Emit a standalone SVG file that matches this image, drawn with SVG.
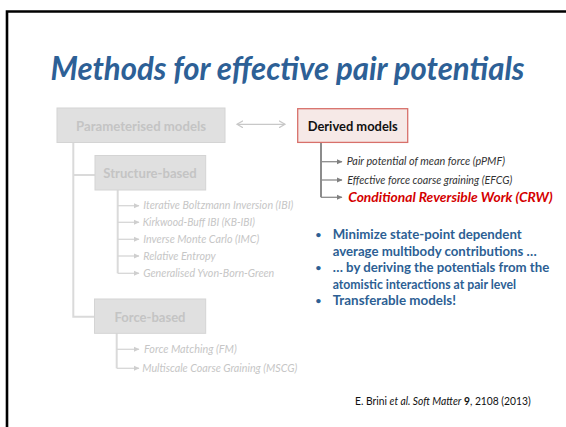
<svg xmlns="http://www.w3.org/2000/svg" width="566" height="427" viewBox="0 0 566 427">
  <defs>
    <marker id="ahLight" markerWidth="6" markerHeight="6" refX="5" refY="3" orient="auto" markerUnits="userSpaceOnUse">
      <path d="M0,0.5 L5.5,3 L0,5.5 z" fill="#cfcfcf"/>
    </marker>
    <marker id="ahDark" markerWidth="6" markerHeight="6" refX="5" refY="3" orient="auto" markerUnits="userSpaceOnUse">
      <path d="M0,0.5 L5.5,3 L0,5.5 z" fill="#808080"/>
    </marker>
    <marker id="chev" markerWidth="8" markerHeight="8" refX="6" refY="4" orient="auto-start-reverse" markerUnits="userSpaceOnUse">
      <path d="M0,0.5 L6,4 L0,7.5" fill="none" stroke="#c8c8c8" stroke-width="1.2"/>
    </marker>
  </defs>
  <style>
    text { font-family: Lato, "Open Sans", "Liberation Sans", sans-serif; }
    .title { font-size: 32px; font-weight: bold; font-style: italic; fill: #2d6096; }
    .boxGrey { fill: #e0e0e0; stroke: #d4d4d4; stroke-width: 1; }
    .boxRed { fill: #f6e9e7; stroke: #d8706a; stroke-width: 1.3; }
    .lblGrey { font-size: 13px; font-weight: bold; fill: #c4c4c4; text-anchor: middle; }
    .lblDark { font-size: 13px; font-weight: bold; fill: #111; text-anchor: middle; }
    .itemGrey { font-size: 10.5px; font-style: italic; fill: #c6c6c6; }
    .itemDark { font-size: 10.5px; font-style: italic; fill: #333; }
    .itemRed { font-size: 14px; font-style: italic; font-weight: bold; fill: #d40000; }
    .bullet { font-size: 13px; font-weight: bold; fill: #2d5f94; }
    .dot { font-size: 10px; font-weight: bold; fill: #2d5f94; }
    .cite { font-size: 10.5px; fill: #111; }
    .trunkLight { fill: none; stroke: #dadada; stroke-width: 2; }
    .twigLight { fill: none; stroke: #d6d6d6; stroke-width: 1.3; }
    .trunkDark { fill: none; stroke: #8c8c8c; stroke-width: 2; }
    .twigDark { fill: none; stroke: #8c8c8c; stroke-width: 1.3; }
  </style>

  <!-- slide frame -->
  <path d="M7,427 V11.5 H566" fill="none" stroke="#000" stroke-width="2.6"/>

  <text class="title" x="50.5" y="80" textLength="474" lengthAdjust="spacingAndGlyphs">Methods for effective pair potentials</text>

  <!-- connectors -->
  <g id="connectors">
    <line x1="237" y1="124.3" x2="285" y2="124.3" stroke="#c8c8c8" stroke-width="1.2" marker-start="url(#chev)" marker-end="url(#chev)"/>
    <!-- parameterised tree -->
    <path class="trunkLight" d="M73.3,142 V316.7 H95 M73.3,175 H95"/>
    <path class="trunkLight" d="M117.7,190 V273.3"/>
    <path class="twigLight" d="M117.7,205.7 H139" marker-end="url(#ahLight)"/>
    <path class="twigLight" d="M117.7,222.3 H139" marker-end="url(#ahLight)"/>
    <path class="twigLight" d="M117.7,239.3 H139" marker-end="url(#ahLight)"/>
    <path class="twigLight" d="M117.7,256 H139" marker-end="url(#ahLight)"/>
    <path class="twigLight" d="M117.7,273.3 H139" marker-end="url(#ahLight)"/>
    <path class="trunkLight" d="M116.7,333 V368.3"/>
    <path class="twigLight" d="M116.7,349.3 H139" marker-end="url(#ahLight)"/>
    <path class="twigLight" d="M116.7,368.3 H139" marker-end="url(#ahLight)"/>
    <!-- derived tree -->
    <path class="trunkDark" d="M321,142.5 V197.3"/>
    <path class="twigDark" d="M321,161.7 H342" marker-end="url(#ahDark)"/>
    <path class="twigDark" d="M321,180 H342" marker-end="url(#ahDark)"/>
    <path class="twigDark" d="M321,197.3 H342" marker-end="url(#ahDark)"/>
  </g>

  <g id="parameterised">
    <rect class="boxGrey" x="57" y="108" width="168" height="34.5"/>
    <text class="lblGrey" x="141" y="130.5" textLength="130" lengthAdjust="spacingAndGlyphs">Parameterised models</text>
  </g>

  <g id="derived">
    <rect class="boxRed" x="297.7" y="108.7" width="110" height="33.7"/>
    <text class="lblDark" x="352.7" y="131" textLength="90" lengthAdjust="spacingAndGlyphs">Derived models</text>
  </g>

  <g id="structure">
    <rect class="boxGrey" x="95" y="155.5" width="110.7" height="34.5"/>
    <text class="lblGrey" x="150" y="177.5" textLength="93.5" lengthAdjust="spacingAndGlyphs">Structure-based</text>
  </g>

  <g id="force">
    <rect class="boxGrey" x="94.5" y="299" width="111.2" height="34.3"/>
    <text class="lblGrey" x="150" y="321.5" textLength="71" lengthAdjust="spacingAndGlyphs">Force-based</text>
  </g>

  <g id="structure-methods">
    <text class="itemGrey" x="143.3" y="209.3" textLength="150" lengthAdjust="spacingAndGlyphs">Iterative Boltzmann Inversion (IBI)</text>
    <text class="itemGrey" x="142.7" y="225.9" textLength="112.3" lengthAdjust="spacingAndGlyphs">Kirkwood-Buff IBI (KB-IBI)</text>
    <text class="itemGrey" x="143.3" y="242.9" textLength="116" lengthAdjust="spacingAndGlyphs">Inverse Monte Carlo (IMC)</text>
    <text class="itemGrey" x="143.3" y="259.6" textLength="72.4" lengthAdjust="spacingAndGlyphs">Relative Entropy</text>
    <text class="itemGrey" x="143.3" y="276.9" textLength="131" lengthAdjust="spacingAndGlyphs">Generalised Yvon-Born-Green</text>
  </g>

  <g id="force-methods">
    <text class="itemGrey" x="144" y="352.9" textLength="92.7" lengthAdjust="spacingAndGlyphs">Force Matching (FM)</text>
    <text class="itemGrey" x="142.3" y="371.9" textLength="155" lengthAdjust="spacingAndGlyphs">Multiscale Coarse Graining (MSCG)</text>
  </g>

  <g id="derived-methods">
    <text class="itemDark" x="346.7" y="165.3" textLength="158.3" lengthAdjust="spacingAndGlyphs">Pair potential of mean force (pPMF)</text>
    <text class="itemDark" x="347.3" y="183.6" textLength="165" lengthAdjust="spacingAndGlyphs">Effective force coarse graining (EFCG)</text>
    <text class="itemRed" x="348.3" y="202" textLength="204.4" lengthAdjust="spacingAndGlyphs">Conditional Reversible Work (CRW)</text>
  </g>

  <g id="bullets">
    <text class="dot" x="315.5" y="237.5">•</text>
    <text class="bullet" x="332.7" y="238.9" textLength="189" lengthAdjust="spacingAndGlyphs">Minimize state-point dependent</text>
    <text class="bullet" x="332.7" y="255.5" textLength="204" lengthAdjust="spacingAndGlyphs">average multibody contributions …</text>
    <text class="dot" x="315.5" y="270.8">•</text>
    <text class="bullet" x="332.7" y="272.2" textLength="216.6" lengthAdjust="spacingAndGlyphs">… by deriving the potentials from the</text>
    <text class="bullet" x="332.7" y="288.7" textLength="183.3" lengthAdjust="spacingAndGlyphs">atomistic interactions at pair level</text>
    <text class="dot" x="315.5" y="304">•</text>
    <text class="bullet" x="332.7" y="305.4" textLength="123.3" lengthAdjust="spacingAndGlyphs">Transferable models!</text>
  </g>

  <text class="cite" x="355" y="405.3" textLength="175.7" lengthAdjust="spacingAndGlyphs">E. Brini <tspan font-style="italic">et al. Soft Matter</tspan> <tspan font-weight="bold">9</tspan>, 2108 (2013)</text>
</svg>
